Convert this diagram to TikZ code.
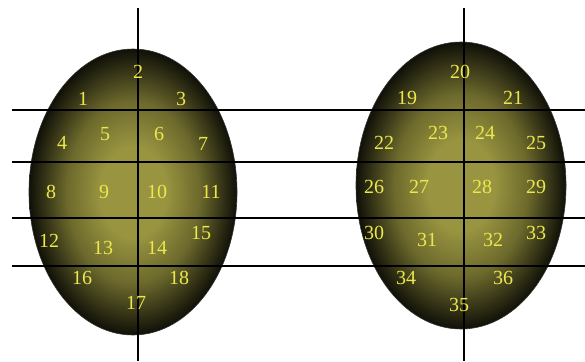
\documentclass[tikz,border=0pt]{standalone}
\usepackage{fontspec}
\setmainfont{Liberation Serif}
\definecolor{eggin}{RGB}{152,148,64}
\definecolor{eggmid}{RGB}{108,105,44}
\definecolor{eggout}{RGB}{16,16,8}
\definecolor{numcol}{RGB}{236,232,76}
\pgfdeclareradialshading{eggshade}{\pgfpoint{0bp}{0bp}}{color(0bp)=(eggin); color(8bp)=(eggin); color(16bp)=(eggmid); color(25bp)=(eggout); color(50bp)=(eggout)}
\begin{document}
\begin{tikzpicture}[x=1pt,y=-1pt,
  num/.style={text=numcol,font=\fontsize{20}{20}\selectfont,inner sep=0pt},
  gridline/.style={draw=black,line width=1.1pt},
  egg/.style={shading=eggshade,draw=black!80,line width=0.6pt}]
\useasboundingbox (0,0) rectangle (585,361);
% eggs
\path[egg] (133,192) ellipse [x radius=104, y radius=143];
\path[egg] (461,185.5) ellipse [x radius=105, y radius=143.5];
% grid
\coordinate (hl1) at (12,110); \coordinate (hr1) at (585,110);
\coordinate (hl2) at (12,162); \coordinate (hr2) at (585,162);
\coordinate (hl3) at (12,218); \coordinate (hr3) at (585,218);
\coordinate (hl4) at (12,266); \coordinate (hr4) at (585,266);
\coordinate (vt1) at (138,8); \coordinate (vb1) at (138,361);
\coordinate (vt2) at (464,8); \coordinate (vb2) at (464,361);
\foreach \i in {1,...,4} \draw[gridline] (hl\i) -- (hr\i);
\draw[gridline] (vt1) -- (vb1);
\draw[gridline] (vt2) -- (vb2);
% numbers, left egg
\node[num] (n1) at (83,99) {1};
\node[num] (n2) at (138,72) {2};
\node[num] (n3) at (181,99) {3};
\node[num] (n4) at (62,143) {4};
\node[num] (n5) at (105,134) {5};
\node[num] (n6) at (159,134) {6};
\node[num] (n7) at (203,144) {7};
\node[num] (n8) at (51,192) {8};
\node[num] (n9) at (104,192) {9};
\node[num] (n10) at (157,192) {10};
\node[num] (n11) at (211,192) {11};
\node[num] (n12) at (49,241) {12};
\node[num] (n13) at (103,248) {13};
\node[num] (n14) at (157,248) {14};
\node[num] (n15) at (201,233) {15};
\node[num] (n16) at (82,278) {16};
\node[num] (n17) at (136,303) {17};
\node[num] (n18) at (179,278) {18};
% numbers, right egg
\node[num] (n19) at (407,98) {19};
\node[num] (n20) at (460,72) {20};
\node[num] (n21) at (513,98) {21};
\node[num] (n22) at (384,143) {22};
\node[num] (n23) at (438,133) {23};
\node[num] (n24) at (485,133) {24};
\node[num] (n25) at (536,143) {25};
\node[num] (n26) at (374,187) {26};
\node[num] (n27) at (419,187) {27};
\node[num] (n28) at (482,187) {28};
\node[num] (n29) at (536,187) {29};
\node[num] (n30) at (374,233) {30};
\node[num] (n31) at (427,240) {31};
\node[num] (n32) at (493,240) {32};
\node[num] (n33) at (536,233) {33};
\node[num] (n34) at (406,278) {34};
\node[num] (n35) at (459,305) {35};
\node[num] (n36) at (503,278) {36};
\end{tikzpicture}
\end{document}
